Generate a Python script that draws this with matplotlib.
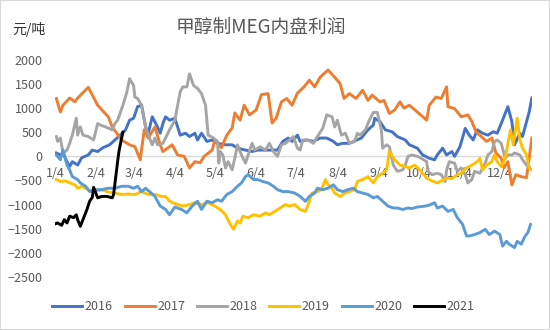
import matplotlib
matplotlib.use("Agg")
import matplotlib.pyplot as plt
import pandas as pd
from matplotlib.patches import Rectangle

plt.rcParams['font.family'] = ['Noto Sans CJK SC', 'DejaVu Sans']

# day of year (Jan 1 = 0) and profit in 元/吨
days_2016 = [4, 7, 9, 12, 14, 16, 20, 23, 28, 31, 35, 39, 44, 48, 52, 56, 59, 62, 65, 68,
             71, 73, 76, 80, 82, 84, 86, 89, 93, 97, 101, 104, 108, 110, 113, 117, 121, 125, 131, 136,
             140, 146, 151, 155, 161, 166, 170, 174, 178, 181, 185, 187, 192, 197, 202, 207, 212, 215, 219, 224,
             228, 233, 238, 242, 243, 247, 251, 256, 260, 266, 269, 275, 279, 284, 288, 290, 294, 297, 301, 303,
             307, 311, 314, 317, 320, 324, 328, 332, 335, 339, 343, 346, 348, 352, 354, 357, 359, 361]
vals_2016 = [70, 30, 70, -110, -210, -110, -180, -30, 30, 130, 100, 180, 240, 340, 440, 550, 750, 790, 1030, 1060,
             610, 480, 820, 610, 480, 680, 820, 750, 790, 440, 480, 410, 480, 340, 480, 310, 340, 270, 240, 240,
             170, 130, 100, 130, 130, 130, 130, 310, 380, 310, 440, 310, 340, 310, 380, 380, 310, 240, 270, 270,
             320, 380, 550, 650, 790, 720, 550, 510, 410, 340, 240, 170, 30, -40, -70, 30, 170, 30, 100, 0,
             200, 580, 440, 340, 550, 480, 440, 510, 480, 750, 1030, 720, 240, 480, 410, 720, 920, 1210]

days_2017 = [4, 7, 9, 14, 18, 20, 28, 35, 43, 46, 53, 59, 63, 67, 70, 73, 78, 82, 84, 91,
             95, 100, 104, 108, 112, 115, 121, 123, 128, 132, 136, 138, 142, 145, 149, 154, 158, 163, 166, 169,
             173, 177, 181, 185, 190, 194, 198, 202, 208, 213, 217, 220, 224, 229, 234, 238, 241, 247, 250, 254,
             258, 262, 265, 269, 275, 282, 284, 289, 293, 297, 298, 303, 308, 313, 316, 319, 323, 327, 331, 334,
             338, 340, 343, 346, 349, 353, 357, 358, 361]
vals_2017 = [1200, 920, 1060, 1210, 1130, 1210, 1430, 1060, 820, 610, 340, 240, 200, -70, 550, 380, 610, 240, 100, 240,
             30, 0, -240, -110, -130, 0, 130, 340, 180, 440, 590, 900, 750, 1060, 860, 960, 1280, 1300, 690, 790,
             1130, 1200, 1060, 1310, 1440, 1580, 1440, 1640, 1790, 1640, 1510, 1200, 1300, 1200, 1370, 1160, 1270, 1130, 1160, 890,
             960, 1130, 1000, 1060, 920, 750, 1060, 1230, 1200, 1440, 1030, 990, 820, 860, 720, 510, 410, 310, 380, 70,
             -40, -240, -110, -590, -380, -420, -440, -240, 380]

days_2018 = [4, 5, 7, 9, 12, 14, 16, 19, 20, 22, 24, 28, 32, 35, 37, 41, 46, 48, 50, 54,
             57, 59, 62, 63, 65, 68, 71, 73, 76, 78, 80, 84, 86, 89, 93, 97, 99, 102, 104, 107,
             110, 113, 116, 118, 122, 125, 126, 127, 129, 131, 133, 136, 138, 140, 143, 146, 148, 151, 153, 157,
             161, 164, 167, 170, 173, 176, 179, 182, 185, 187, 189, 193, 197, 200, 204, 207, 211, 213, 215, 218,
             221, 224, 228, 230, 232, 236, 239, 242, 245, 248, 249, 252, 254, 257, 260, 264, 266, 268, 271, 275,
             278, 282, 283, 286, 290, 293, 296, 297, 299, 303, 305, 308, 311, 313, 316, 318, 322, 326, 328, 331,
             333, 335, 338, 341, 343, 346, 348, 352, 354, 357, 359]
vals_2018 = [410, 310, 380, 70, 130, 270, 440, 790, 440, 610, 440, 410, 340, 680, 650, 610, 550, 680, 750, 1060,
             1340, 1610, 1470, 1230, 1200, 1060, 610, 440, 240, 380, 240, 270, 380, 550, 750, 1340, 1440, 1440, 1710, 1470,
             1410, 1300, 1060, 440, 380, 310, -140, 100, 30, -240, -110, -280, -40, 240, 30, -140, 30, 270, 130, 200,
             130, 270, 100, 0, 240, 270, 340, 410, 170, 130, 340, 340, 270, 410, 580, 860, 820, 610, 750, 440,
             480, 270, 310, 480, 440, 550, 750, 910, 910, 550, 170, 240, 200, -180, -310, -280, -180, 0, 30, 0,
             -40, -110, -310, -380, -350, -380, -520, -280, -110, -140, -310, -240, -380, -550, -480, -310, -350, -140, 30, 100,
             310, 340, 270, -40, 30, 30, 70, 30, -70, -180, -210]

days_2019 = [4, 7, 11, 14, 18, 20, 23, 28, 33, 38, 43, 48, 53, 58, 63, 68, 73, 78, 83, 86,
             89, 95, 99, 104, 108, 113, 118, 123, 127, 131, 134, 137, 140, 142, 144, 148, 152, 157, 161, 164,
             168, 172, 176, 179, 183, 187, 191, 193, 196, 200, 203, 206, 208, 211, 213, 217, 221, 224, 228, 230,
             234, 238, 242, 245, 249, 252, 254, 258, 262, 266, 269, 273, 277, 282, 286, 290, 293, 297, 301, 305,
             308, 312, 316, 320, 322, 324, 327, 331, 333, 335, 338, 341, 343, 345, 347, 350, 352, 354, 357, 359,
             361]
vals_2019 = [-480, -520, -510, -550, -590, -660, -620, -690, -730, -690, -740, -760, -790, -780, -790, -730, -790, -790, -830, -830,
             -930, -1000, -1030, -1000, -960, -1000, -960, -1030, -1100, -1210, -1380, -1510, -1340, -1380, -1240, -1270, -1210, -1240, -1170, -1210,
             -1140, -1070, -1000, -1030, -1000, -1100, -1140, -1000, -760, -730, -690, -480, -590, -660, -760, -830, -760, -730, -690, -520,
             -480, -420, -550, -420, -350, -280, 100, -70, -180, -210, -240, -180, -280, -450, -510, -550, -510, -450, -460, -380,
             -350, -240, -180, -110, -40, -280, -180, -110, 30, -110, -210, -40, 270, 550, 240, 790, 340, 170, 30, -240,
             -280]

days_2020 = [4, 7, 9, 12, 14, 16, 20, 22, 26, 29, 33, 38, 43, 48, 53, 58, 62, 65, 68, 71,
             74, 78, 82, 86, 89, 93, 98, 102, 106, 110, 113, 117, 121, 125, 128, 132, 136, 140, 143, 146,
             148, 152, 155, 159, 163, 167, 170, 174, 178, 183, 187, 191, 194, 198, 200, 204, 208, 212, 215, 219,
             223, 227, 230, 234, 238, 242, 245, 249, 253, 257, 260, 264, 268, 271, 275, 281, 284, 288, 290, 294,
             298, 302, 305, 309, 312, 314, 318, 322, 326, 329, 333, 337, 339, 342, 344, 348, 350, 353, 356, 358,
             360]
vals_2020 = [30, -70, 130, -180, -280, -420, -480, -550, -620, -730, -690, -690, -660, -660, -620, -620, -660, -620, -730, -660,
             -730, -830, -1030, -1100, -1210, -1050, -1100, -1170, -1030, -930, -1100, -930, -960, -900, -930, -790, -730, -620, -550, -420,
             -380, -480, -480, -520, -550, -620, -690, -730, -730, -760, -830, -930, -830, -760, -660, -690, -660, -590, -690, -730,
             -690, -660, -730, -760, -790, -860, -830, -930, -1030, -1070, -1070, -1100, -1070, -1080, -1050, -1030, -1010, -960, -1070, -1030,
             -1140, -1100, -1270, -1410, -1650, -1650, -1620, -1580, -1510, -1620, -1550, -1620, -1860, -1760, -1820, -1890, -1760, -1820, -1650, -1580,
             -1410]

days_2021 = [3, 5, 8, 10, 12, 14, 17, 19, 20, 22, 24, 27, 29, 31, 32, 35, 38, 42, 46, 47, 50, 51, 53, 54]
vals_2021 = [-1400, -1380, -1430, -1310, -1380, -1240, -1270, -1210, -1310, -1450, -1310, -1100, -930, -850, -640,
             -860, -830, -830, -860, -790, -110, 100, 380, 500]

years = ['2016', '2017', '2018', '2019', '2020', '2021']
colors = ['#4472C4', '#ED7D31', '#A5A5A5', '#FFC000', '#5B9BD5', '#000000']
series = [(days_2016, vals_2016), (days_2017, vals_2017), (days_2018, vals_2018),
          (days_2019, vals_2019), (days_2020, vals_2020), (days_2021, vals_2021)]

tick_labels = [f'{m}/4' for m in range(1, 13)]
tick_days = list(pd.to_datetime([f'2019-{m:02d}-04' for m in range(1, 13)]).dayofyear - 1)

fig = plt.figure(figsize=(5.5, 3.3), dpi=100)
fig.patches.append(Rectangle((0, 0), 1, 1, transform=fig.transFigure, fill=False,
                             edgecolor='#D9D9D9', linewidth=1.5))
ax = fig.add_axes([0.1, 0.1606, 0.867, 0.658])

for (d, v), year, c in zip(series, years, colors):
    ax.plot(d, v, color=c, lw=2.1, label=year)

ax.set_xlim(3, 361)
ax.set_ylim(-2500, 2000)
ax.set_yticks(range(-2500, 2001, 500))
ax.set_xticks(tick_days)
ax.set_xticklabels(tick_labels)

for s in ['top', 'right', 'left']:
    ax.spines[s].set_visible(False)
ax.spines['bottom'].set_position(('data', 0))
ax.spines['bottom'].set_color('#D9D9D9')
ax.spines['bottom'].set_linewidth(1)
ax.spines['bottom'].set_zorder(0)
ax.tick_params(axis='both', length=0, labelsize=9, labelcolor='#595959')
ax.tick_params(axis='y', pad=9)
ax.tick_params(axis='x', pad=8)

fig.text(0.475, 0.918, '甲醇制MEG内盘利润', ha='center', va='center', fontsize=13.5, color='#595959')
fig.text(0.022, 0.912, '元/吨', ha='left', va='center', fontsize=10, color='#333333')

fig.legend(loc='center', bbox_to_anchor=(0.479, 0.07), ncol=6, frameon=False, fontsize=9,
           handlelength=2.4, handletextpad=0.2, columnspacing=0.95, labelcolor='#595959')

fig.savefig('out.png', dpi=100)
